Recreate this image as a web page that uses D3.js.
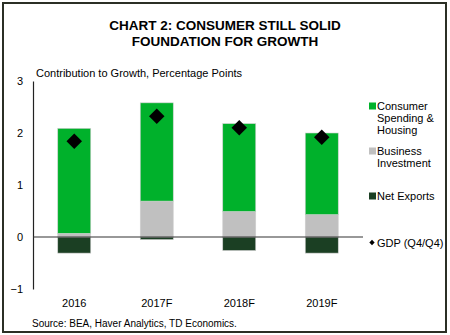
<!DOCTYPE html>
<html>
<head>
<meta charset="utf-8">
<script src="https://cdn.jsdelivr.net/npm/d3@7"></script>
<style>
  body { margin: 0; background: #fff; }
  text { font-family: "Liberation Sans", Arial, sans-serif; fill: #000; }
</style>
</head>
<body>
<div id="chart"></div>
<script>
// chart data
var years = ["2016", "2017F", "2018F", "2019F"];
var consumer = [2.02, 1.89, 1.69, 1.57];
var business = [0.07, 0.69, 0.49, 0.43];
var netExports = [-0.31, -0.05, -0.26, -0.31];
var gdp = [1.84, 2.32, 2.10, 1.92];
var yTicks = [-1, 0, 1, 2, 3];

var svgWidth = 450;
var svgHeight = 335;

var margin = { top: 81, left: 33, right: 87, bottom: 46 };
var width = svgWidth - margin.left - margin.right;   // 330
var height = 208;

var svg = d3.select("#chart")
  .append("svg")
  .attr("width", svgWidth)
  .attr("height", svgHeight);

// frame
svg.append("rect")
  .attr("x", 3).attr("y", 3)
  .attr("width", 443).attr("height", 329)
  .attr("fill", "none")
  .attr("stroke", "#2b2f25")
  .attr("stroke-width", 2);

// title
svg.append("text")
  .attr("x", 225).attr("y", 30)
  .attr("text-anchor", "middle")
  .attr("font-size", "13.5px")
  .attr("font-weight", "bold")
  .text("CHART 2: CONSUMER STILL SOLID");
svg.append("text")
  .attr("x", 225).attr("y", 46)
  .attr("text-anchor", "middle")
  .attr("font-size", "13.5px")
  .attr("font-weight", "bold")
  .text("FOUNDATION FOR GROWTH");

svg.append("text")
  .attr("x", 36).attr("y", 77)
  .attr("font-size", "11px")
  .text("Contribution to Growth, Percentage Points");

var chartGroup = svg.append("g")
  .attr("transform", `translate(${margin.left}, ${margin.top})`);

var xScale = d3.scaleBand()
  .domain(years)
  .range([0, width])
  .paddingInner(0.6)
  .paddingOuter(0.3);

var yScale = d3.scaleLinear()
  .domain([-1, 3])
  .range([height, 0]);

// stacked segments
var stacks = years.map(function(y, i) {
  return [
    { key: "nx", y0: netExports[i], y1: 0, color: "#1b3f23" },
    { key: "bi", y0: 0, y1: business[i], color: "#c0c0c0" },
    { key: "cs", y0: business[i], y1: business[i] + consumer[i], color: "#00b12b" }
  ].map(function(s) { s.year = y; return s; });
});

chartGroup.selectAll("g.bar")
  .data(stacks)
  .enter()
  .append("g")
  .attr("class", "bar")
  .selectAll("rect")
  .data(d => d)
  .enter()
  .append("rect")
  .attr("x", d => xScale(d.year))
  .attr("width", xScale.bandwidth())
  .attr("y", d => yScale(Math.max(d.y0, d.y1)))
  .attr("height", d => Math.abs(yScale(d.y0) - yScale(d.y1)))
  .attr("fill", d => d.color)
  .attr("stroke", "#d0d0d0")
  .attr("stroke-width", 0.6);

// y axis
var leftAxis = d3.axisLeft(yScale)
  .tickValues(yTicks)
  .tickFormat(d3.format("d"))
  .tickSize(0)
  .tickPadding(10);
var yAxis = chartGroup.append("g").call(leftAxis);
yAxis.select(".domain").attr("stroke", "#222").attr("stroke-width", 1.2);
yAxis.selectAll("text")
  .attr("font-size", "11px")
  .attr("font-family", "Liberation Sans, Arial, sans-serif")
  .attr("fill", "#000");

// zero line
chartGroup.append("line")
  .attr("x1", 0).attr("x2", width)
  .attr("y1", yScale(0)).attr("y2", yScale(0))
  .attr("stroke", "#333")
  .attr("stroke-width", 1.2);

// x labels
var bottomAxis = d3.axisBottom(xScale).tickSize(0).tickPadding(10);
var xAxis = chartGroup.append("g")
  .attr("transform", `translate(0, ${height})`)
  .call(bottomAxis);
xAxis.select(".domain").remove();
xAxis.selectAll("text")
  .attr("font-size", "11px")
  .attr("font-family", "Liberation Sans, Arial, sans-serif")
  .attr("fill", "#000");

// GDP diamonds
var diamond = d3.symbol().type(d3.symbolSquare).size(120);
chartGroup.selectAll("path.gdp")
  .data(gdp)
  .enter()
  .append("path")
  .attr("class", "gdp")
  .attr("d", diamond)
  .attr("transform", (d, i) => `translate(${xScale(years[i]) + xScale.bandwidth() / 2}, ${yScale(d)}) rotate(45)`)
  .attr("fill", "#000");

// legend
var legendItems = [
  { lines: ["Consumer", "Spending &", "Housing"], y: 106, color: "#00b12b" },
  { lines: ["Business", "Investment"], y: 151, color: "#c0c0c0" },
  { lines: ["Net Exports"], y: 196, color: "#1b3f23" }
];

legendItems.forEach(function(item) {
  svg.append("rect")
    .attr("x", 369).attr("y", item.y - 3.5)
    .attr("width", 7).attr("height", 7)
    .attr("fill", item.color);
  var t = svg.append("text")
    .attr("x", 377).attr("y", item.y + 4)
    .attr("font-size", "11px");
  item.lines.forEach(function(l, j) {
    t.append("tspan").attr("x", 377).attr("dy", j === 0 ? 0 : 12).text(l);
  });
});

svg.append("path")
  .attr("d", d3.symbol().type(d3.symbolSquare).size(14))
  .attr("transform", "translate(372, 242.5) rotate(45)")
  .attr("fill", "#000");
svg.append("text")
  .attr("x", 377).attr("y", 246.5)
  .attr("font-size", "11px")
  .text("GDP (Q4/Q4)");

// source
svg.append("text")
  .attr("x", 32).attr("y", 327)
  .attr("font-size", "10px")
  .text("Source: BEA, Haver Analytics, TD Economics.");
</script>
</body>
</html>
